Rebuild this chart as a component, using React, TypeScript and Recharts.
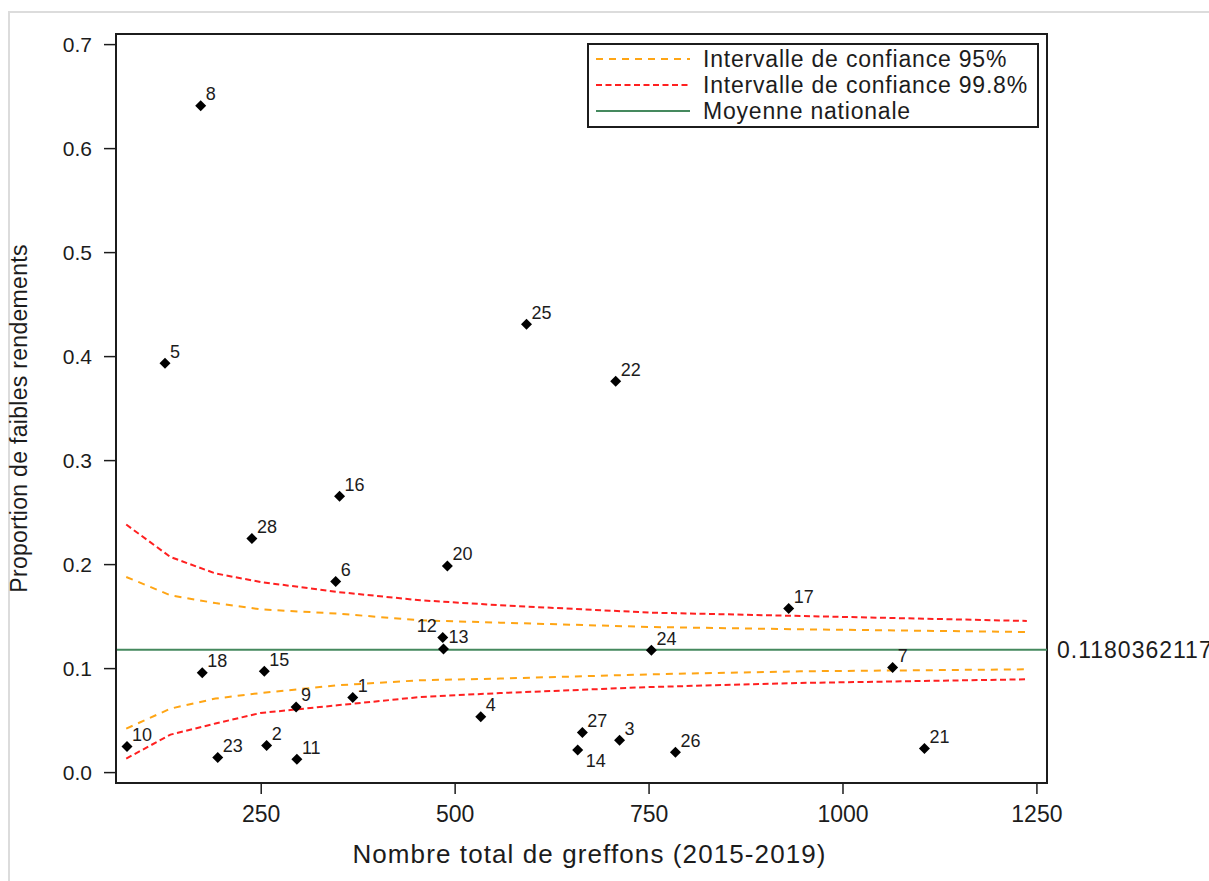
import {
  ComposedChart,
  XAxis,
  YAxis,
  Scatter,
  Line,
  ReferenceLine,
  ReferenceArea,
  Legend,
} from 'recharts'

// centres (labels), total grafts 2015-2019, proportion of low yields
const centreIds = ['1', '2', '3', '4', '5', '6', '7', '8', '9', '10', '11', '12', '13', '14', '15', '16', '17', '18', '20', '21', '22', '23', '24', '25', '26', '27', '28']
const totalGreffons = [368, 257, 712, 533, 126, 346, 1064, 172, 295, 77, 296, 484, 485, 658, 254, 351, 930, 174, 490, 1105, 707, 194, 753, 592, 784, 664, 238]
const propFaibles = [0.0721, 0.026, 0.0311, 0.0538, 0.3936, 0.1837, 0.101, 0.6413, 0.0631, 0.025, 0.0128, 0.1298, 0.1189, 0.0217, 0.0974, 0.2657, 0.1577, 0.0961, 0.1987, 0.0231, 0.3763, 0.0144, 0.1176, 0.4311, 0.0195, 0.0385, 0.225]

// funnel limits
const ciGreffons = [76, 133, 191, 249, 348, 455, 558, 752, 945, 1237]
const ci95Upper = [0.1881, 0.1705, 0.163, 0.157, 0.1529, 0.1464, 0.1442, 0.14, 0.1378, 0.1352]
const ci95Lower = [0.0423, 0.0615, 0.0712, 0.0765, 0.0839, 0.0888, 0.0904, 0.0945, 0.0974, 0.0993]
const ci998Upper = [0.2385, 0.2073, 0.1915, 0.1833, 0.1737, 0.1657, 0.1609, 0.1538, 0.1506, 0.1458]
const ci998Lower = [0.0135, 0.0365, 0.0472, 0.0573, 0.0647, 0.0727, 0.0765, 0.0823, 0.0862, 0.0897]

const nationalMean = 0.1180362117
const xTicks = [250, 500, 750, 1000, 1250]
const yTicks = [0, 0.1, 0.2, 0.3, 0.4, 0.5, 0.6, 0.7]
const xDomain = [62.8, 1263]
const yDomain = [-0.01, 0.7102]
const legendLabels = ['Intervalle de confiance 95%', 'Intervalle de confiance 99.8%', 'Moyenne nationale']

const FONT = '"Liberation Sans", Arial, Helvetica, sans-serif'
const INK = '#1c1c1c'
const ORANGE = '#ffa514'
const RED = '#ff2020'
const GREEN = '#45895e'
const DASH95 = '7 6'
const DASH998 = '6 3.5'

const points = centreIds.map((id, i) => ({ id, x: totalGreffons[i], y: propFaibles[i] }))
const ciData = ciGreffons.map((x, i) => ({
  x,
  u95: ci95Upper[i],
  l95: ci95Lower[i],
  u998: ci998Upper[i],
  l998: ci998Lower[i],
}))

const labelLeft = ['12']
const labelBelow = ['14']

function Diamond(props: any) {
  const { cx, cy, payload } = props
  const r = 5.5
  let tx = cx + 5
  let ty = cy - 5.5
  let anchor: 'start' | 'end' = 'start'
  if (labelLeft.includes(payload.id)) {
    tx = cx - 6
    anchor = 'end'
  } else if (labelBelow.includes(payload.id)) {
    tx = cx + 8
    ty = cy + 17
  }
  return (
    <g>
      <polygon points={`${cx},${cy - r} ${cx + r},${cy} ${cx},${cy + r} ${cx - r},${cy}`} fill="#000" />
      <text x={tx} y={ty} textAnchor={anchor} fontSize={18} fontFamily={FONT} fill={INK}>
        {payload.id}
      </text>
    </g>
  )
}

function XTitle(props: any) {
  const vb = props.viewBox || { x: 116, y: 783, width: 931, height: 90 }
  const cx = vb.x + vb.width / 2 + 8
  return (
    <text x={cx} y={vb.y + 80} textAnchor="middle" fontSize={26} letterSpacing={1.1} fontFamily={FONT} fill={INK}>
      Nombre total de greffons (2015-2019)
    </text>
  )
}

function YTitle(props: any) {
  const vb = props.viewBox || { x: 10, y: 34, width: 106, height: 749 }
  const cx = vb.x + 9
  const cy = vb.y + vb.height / 2 + 10
  return (
    <text
      x={cx}
      y={cy}
      transform={`rotate(-90 ${cx} ${cy})`}
      textAnchor="middle"
      dominantBaseline="central"
      fontSize={23}
      letterSpacing={0.3}
      fontFamily={FONT}
      fill={INK}
    >
      Proportion de faibles rendements
    </text>
  )
}

function LegendBox() {
  const styles = [
    { stroke: ORANGE, dash: DASH95 },
    { stroke: RED, dash: DASH998 },
    { stroke: GREEN, dash: undefined },
  ]
  return (
    <svg width={452} height={85} style={{ display: 'block' }}>
      <rect x={1} y={1} width={450} height={83} fill="#fff" stroke={INK} strokeWidth={2} />
      {legendLabels.map((label, i) => {
        const cy = 16 + i * 26
        return (
          <g key={label}>
            <line x1={9} x2={103} y1={cy} y2={cy} stroke={styles[i].stroke} strokeWidth={2} strokeDasharray={styles[i].dash} />
            <text x={116} y={cy} dominantBaseline="central" fontSize={23} letterSpacing={0.8} fontFamily={FONT} fill={INK}>
              {label}
            </text>
          </g>
        )
      })}
    </svg>
  )
}

export default function App() {
  return (
    <div style={{ position: 'absolute', left: 0, top: 0, width: 1209, height: 881, background: '#fff', overflow: 'hidden' }}>
      <div
        style={{
          position: 'absolute',
          left: 8,
          top: 11,
          width: 1300,
          height: 900,
          borderTop: '2px solid #dcdcdc',
          borderLeft: '2px solid #dcdcdc',
        }}
      />
      <ComposedChart width={1209} height={881} margin={{ top: 34, right: 162, bottom: 8, left: 10 }}>
        <XAxis
          type="number"
          dataKey="x"
          domain={xDomain}
          ticks={xTicks}
          allowDataOverflow
          height={90}
          tickSize={11}
          tickMargin={12}
          axisLine={{ stroke: INK, strokeWidth: 2 }}
          tickLine={{ stroke: INK, strokeWidth: 1.5 }}
          tick={{ fill: INK, fontSize: 23, fontFamily: FONT }}
          label={{ content: (p: any) => <XTitle {...p} /> }}
        />
        <YAxis
          type="number"
          dataKey="y"
          domain={yDomain}
          ticks={yTicks}
          allowDataOverflow
          width={106}
          tickSize={12}
          tickMargin={12}
          tickFormatter={(v: number) => v.toFixed(1)}
          axisLine={{ stroke: INK, strokeWidth: 2 }}
          tickLine={{ stroke: INK, strokeWidth: 1.5 }}
          tick={{ fill: INK, fontSize: 21, fontFamily: FONT }}
          label={{ content: (p: any) => <YTitle {...p} /> }}
        />
        <ReferenceArea
          x1={xDomain[0]}
          x2={xDomain[1]}
          y1={yDomain[0]}
          y2={yDomain[1]}
          fill="none"
          fillOpacity={0}
          stroke={INK}
          strokeWidth={2}
          ifOverflow="visible"
        />
        <ReferenceLine
          y={nationalMean}
          stroke={GREEN}
          strokeWidth={2}
          label={{ value: '0.1180362117', position: 'right', offset: 10, fill: INK, fontSize: 23, letterSpacing: 1, fontFamily: FONT }}
        />
        <Line data={ciData} dataKey="u998" type="linear" stroke={RED} strokeWidth={2} strokeDasharray={DASH998} dot={false} activeDot={false} isAnimationActive={false} />
        <Line data={ciData} dataKey="l998" type="linear" stroke={RED} strokeWidth={2} strokeDasharray={DASH998} dot={false} activeDot={false} isAnimationActive={false} />
        <Line data={ciData} dataKey="u95" type="linear" stroke={ORANGE} strokeWidth={2} strokeDasharray={DASH95} dot={false} activeDot={false} isAnimationActive={false} />
        <Line data={ciData} dataKey="l95" type="linear" stroke={ORANGE} strokeWidth={2} strokeDasharray={DASH95} dot={false} activeDot={false} isAnimationActive={false} />
        <Scatter data={points} dataKey="y" shape={(p: any) => <Diamond {...p} />} isAnimationActive={false} />
        <Legend
          layout="horizontal"
          verticalAlign="middle"
          align="center"
          content={() => <LegendBox />}
          wrapperStyle={{ top: 43, left: 587, width: 452, height: 85 }}
        />
      </ComposedChart>
    </div>
  )
}
